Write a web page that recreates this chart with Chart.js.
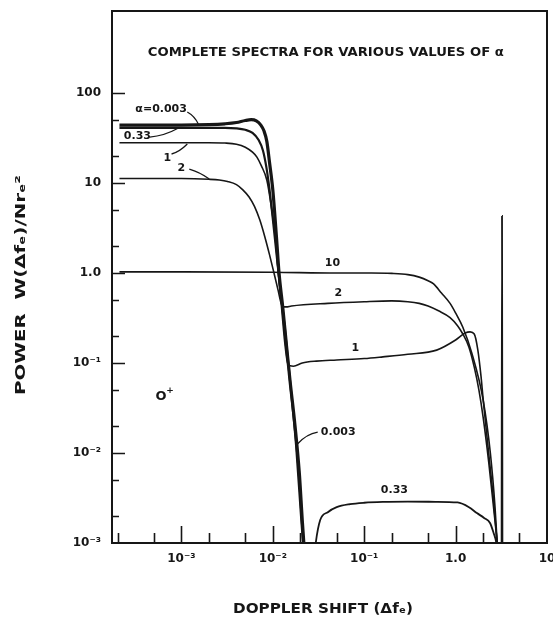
<!DOCTYPE html>
<html>
<head>
<meta charset="utf-8">
<title>Complete spectra</title>
<script src="https://cdn.jsdelivr.net/npm/chart.js@4.4.1/dist/chart.umd.min.js"></script>
<style>
  html, body { margin: 0; padding: 0; background: #fff; }
  #wrap { width: 553px; height: 623px; }
</style>
</head>
<body>
<div id="wrap"><canvas id="spectra" width="553" height="623"></canvas></div>
<script>
// curves (x = doppler shift, y = power)
const a0003X = [2.1e-4, 1e-3, 2e-3, 3e-3, 4e-3, 5e-3, 5.8e-3, 6.6e-3, 7.4e-3, 8e-3, 8.6e-3, 9.2e-3, 1e-2, 1.1e-2, 1.17e-2, 1.29e-2, 1.4e-2, 1.54e-2, 1.75e-2, 1.95e-2, 2.1e-2, 2.2e-2, 2.3e-2];
const a0003Y = [44, 44, 44.5, 45.5, 47, 49.5, 50.5, 49, 44, 38, 29, 17, 8.4, 2.4, 1.0, 0.4, 0.17, 0.065, 0.02, 0.006, 0.0018, 0.0009, 0.0004];

const a033X = [2.1e-4, 1e-3, 2e-3, 3e-3, 4e-3, 5e-3, 6e-3, 7e-3, 7.8e-3, 8.5e-3, 9.2e-3, 1e-2, 1.1e-2, 1.2e-2, 1.35e-2, 1.55e-2, 1.8e-2, 2.05e-2, 2.2e-2];
const a033Y = [41, 41, 41, 41, 40.5, 39, 36, 30, 23, 15, 8.5, 4, 1.6, 0.7, 0.25, 0.06, 0.012, 0.0018, 0.0007];
const a033HumpX = [2.85e-2, 2.95e-2, 3.3e-2, 4e-2, 5e-2, 7e-2, 0.1, 0.16, 0.3, 0.6, 1.05, 1.4, 1.71, 2.05, 2.38, 2.6, 2.79, 2.9];
const a033HumpY = [0.0007, 0.001, 0.0018, 0.0022, 0.0025, 0.0027, 0.0028, 0.00286, 0.00288, 0.00287, 0.00282, 0.0025, 0.00215, 0.0019, 0.00167, 0.0013, 0.001, 0.0007];

const a1X = [2.1e-4, 1e-3, 2e-3, 3e-3, 4e-3, 5e-3, 6e-3, 6.7e-3, 7.5e-3, 8.6e-3, 9.5e-3, 1.05e-2, 1.15e-2, 1.25e-2, 1.35e-2, 1.45e-2, 1.55e-2, 1.68e-2, 2.1e-2, 3e-2, 5e-2, 0.1, 0.16, 0.3, 0.62, 1.0, 1.27, 1.44, 1.6, 1.75, 1.9, 2.0, 2.3, 2.6, 2.85, 3.0];
const a1Y = [28, 28, 28, 27.8, 27, 25, 22, 19.4, 15.5, 10.8, 6, 2.8, 1.0, 0.4, 0.17, 0.1, 0.093, 0.092, 0.1, 0.105, 0.108, 0.112, 0.117, 0.125, 0.139, 0.18, 0.215, 0.222, 0.21, 0.14, 0.07, 0.04, 0.01, 0.003, 0.001, 0.0005];

const a2X = [2.1e-4, 1e-3, 2e-3, 2.6e-3, 3.2e-3, 4e-3, 4.7e-3, 5.5e-3, 6.3e-3, 7.2e-3, 8.2e-3, 9.2e-3, 1.03e-2, 1.14e-2, 1.22e-2, 1.29e-2, 1.4e-2, 1.6e-2, 4e-2, 0.1, 0.2, 0.3, 0.4, 0.5, 0.65, 0.87, 1.05, 1.2, 1.4, 1.6, 1.8, 2.0, 2.3, 2.6, 2.85, 3.0];
const a2Y = [11.2, 11.2, 11, 10.8, 10.4, 9.6, 8.4, 7, 5.5, 3.9, 2.5, 1.6, 1.0, 0.65, 0.48, 0.42, 0.42, 0.43, 0.46, 0.48, 0.49, 0.48, 0.46, 0.43, 0.38, 0.32, 0.26, 0.21, 0.15, 0.09, 0.05, 0.025, 0.008, 0.0025, 0.001, 0.0005];

const a10X = [2.1e-4, 1e-3, 1e-2, 0.05, 0.12, 0.2, 0.3, 0.4, 0.5, 0.57, 0.7, 0.87, 1.0, 1.2, 1.5, 2.0, 2.4, 2.7, 2.85, 3.0];
const a10Y = [1.03, 1.03, 1.02, 1.0, 1.0, 0.99, 0.96, 0.9, 0.82, 0.76, 0.6, 0.46, 0.36, 0.25, 0.13, 0.039, 0.01, 0.0025, 0.001, 0.0005];

// narrow ion line near the right edge
const spikeX = [3.18, 3.22, 3.26];
const spikeY = [1e-4, 4.3, 1e-4];

// tick values and their labels
const xMajor = [1e-3, 1e-2, 1e-1, 1, 10];
const xMajorLabels = ['10\u207B\u00B3', '10\u207B\u00B2', '10\u207B\u00B9', '1.0', '10'];
const xMinor = [2e-4, 5e-4, 2e-3, 5e-3, 2e-2, 5e-2, 0.2, 0.5, 2, 5];
const yMajor = [1e-3, 1e-2, 1e-1, 1, 10, 100];
const yMajorLabels = ['10\u207B\u00B3', '10\u207B\u00B2', '10\u207B\u00B9', '1.0', '10', '100'];
const yMinor = [2e-3, 5e-3, 2e-2, 5e-2, 0.2, 0.5, 2, 5, 20, 50];

// curve labels, in data units
const curveLabels = [
  { text: '\u03B1=0.003', x: 6.0e-4, y: 66 },
  { text: '0.33', x: 3.3e-4, y: 33 },
  { text: '1', x: 7.0e-4, y: 19 },
  { text: '2', x: 1e-3, y: 14.7 },
  { text: '10', x: 0.045, y: 1.3 },
  { text: '2', x: 0.052, y: 0.6 },
  { text: '1', x: 0.08, y: 0.147 },
  { text: '0.003', x: 0.052, y: 0.0171 },
  { text: '0.33', x: 0.214, y: 0.00388 }
];
const leaderLines = [
  [[1.16e-3, 61.5], [1.39e-3, 55.5], [1.53e-3, 45.3]],
  [[4.5e-4, 32.4], [6.5e-4, 33.3], [9.3e-4, 40.8]],
  [[7.8e-4, 21], [9.5e-4, 22.1], [1.16e-3, 27.1]],
  [[1.22e-3, 14.3], [1.57e-3, 13.3], [2.02e-3, 11.1]],
  [[0.031, 0.0171], [0.0233, 0.0163], [0.0186, 0.0126]]
];

const ink = '#161616';
const fontFamily = '"DejaVu Sans", "Liberation Sans", sans-serif';

function pts(xs, ys) {
  return xs.map((x, i) => ({ x: x, y: ys[i] }));
}

function curve(label, xs, ys, width) {
  return {
    label: label,
    data: pts(xs, ys),
    borderColor: ink,
    borderWidth: width,
    pointRadius: 0,
    fill: false,
    cubicInterpolationMode: 'monotone'
  };
}

// draws text squeezed/stretched to a given width
function fittedText(ctx, text, cx, cy, font, targetW, angle) {
  ctx.save();
  ctx.font = font;
  const w = ctx.measureText(text).width;
  ctx.translate(cx, cy);
  if (angle) ctx.rotate(angle);
  ctx.scale(targetW / w, 1);
  ctx.textAlign = 'center';
  ctx.textBaseline = 'middle';
  ctx.fillStyle = ink;
  ctx.fillText(text, 0, 0);
  ctx.restore();
}

const framePlugin = {
  id: 'frame',
  afterDatasetsDraw(chart) {
    const ctx = chart.ctx;
    const a = chart.chartArea;
    const xs = chart.scales.x, ys = chart.scales.y;
    ctx.save();
    ctx.strokeStyle = ink;
    ctx.lineWidth = 2;
    ctx.strokeRect(a.left, a.top, a.right - a.left, a.bottom - a.top);

    ctx.lineWidth = 1.6;
    ctx.beginPath();
    xMajor.concat(xMinor).forEach(v => {
      const len = xMajor.includes(v) ? 17 : 10;
      const px = Math.round(xs.getPixelForValue(v)) + 0.5;
      if (px > a.right - 1) return;
      ctx.moveTo(px, a.bottom);
      ctx.lineTo(px, a.bottom - len);
    });
    yMajor.concat(yMinor).forEach(v => {
      const len = yMajor.includes(v) ? 13 : 7;
      const py = Math.round(ys.getPixelForValue(v)) + 0.5;
      if (py < a.top + 1 || py > a.bottom - 1) return;
      ctx.moveTo(a.left, py);
      ctx.lineTo(a.left + len, py);
    });
    ctx.stroke();

    // leader lines from labels to curves
    ctx.lineWidth = 1.3;
    leaderLines.forEach(line => {
      const p = line.map(q => [xs.getPixelForValue(q[0]), ys.getPixelForValue(q[1])]);
      ctx.beginPath();
      ctx.moveTo(p[0][0], p[0][1]);
      ctx.quadraticCurveTo(p[1][0], p[1][1], p[2][0], p[2][1]);
      ctx.stroke();
    });

    ctx.fillStyle = ink;
    ctx.font = 'bold 11px ' + fontFamily;
    ctx.textAlign = 'center';
    ctx.textBaseline = 'middle';
    curveLabels.forEach(l => {
      ctx.fillText(l.text, xs.getPixelForValue(l.x), ys.getPixelForValue(l.y));
    });

    // species marker
    const ox = xs.getPixelForValue(6e-4), oy = ys.getPixelForValue(0.042);
    ctx.font = 'bold 13px ' + fontFamily;
    ctx.fillText('O', ox, oy);
    ctx.font = 'bold 9px ' + fontFamily;
    ctx.fillText('+', ox + 9, oy - 6);

    // plot title inside the frame
    fittedText(ctx, 'COMPLETE SPECTRA FOR VARIOUS VALUES OF \u03B1',
      xs.getPixelForValue(0.038), ys.getPixelForValue(278),
      'bold 12px ' + fontFamily, 356, 0);

    // axis titles
    fittedText(ctx, 'DOPPLER SHIFT (\u0394f\u2091)', 323, 609,
      'bold 14px ' + fontFamily, 180, 0);
    fittedText(ctx, 'POWER  W(\u0394f\u2091)/Nr\u2091\u00B2', 21, 285,
      'bold 14px ' + fontFamily, 220, -Math.PI / 2);
    ctx.restore();
  }
};

const chart = new Chart(document.getElementById('spectra'), {
  type: 'line',
  data: {
    datasets: [
      curve('\u03B1=0.003', a0003X, a0003Y, 3.2),
      curve('0.33', a033X, a033Y, 2.2),
      curve('0.33 (ion)', a033HumpX, a033HumpY, 1.8),
      curve('1', a1X, a1Y, 1.6),
      curve('2', a2X, a2Y, 1.6),
      curve('10', a10X, a10Y, 1.6),
      curve('ion line', spikeX, spikeY, 1.8)
    ]
  },
  options: {
    responsive: false,
    animation: false,
    devicePixelRatio: 1,
    layout: { padding: { top: 11, right: 6, left: 0, bottom: 0 } },
    plugins: {
      legend: { display: false },
      tooltip: { enabled: false },
      title: { display: false }
    },
    scales: {
      x: {
        type: 'logarithmic',
        min: 1.74e-4,
        max: 10,
        grid: { display: false },
        border: { display: false },
        afterBuildTicks: s => { s.ticks = xMajor.map(v => ({ value: v })); },
        afterFit: s => { s.height = 80; s.paddingLeft = 0; s.paddingRight = 0; },
        ticks: {
          autoSkip: false,
          maxRotation: 0,
          padding: 1,
          color: ink,
          font: { family: fontFamily, size: 12, weight: 'bold' },
          callback: v => {
            const i = xMajor.indexOf(v);
            return i >= 0 ? xMajorLabels[i] : '';
          }
        }
      },
      y: {
        type: 'logarithmic',
        min: 1e-3,
        max: 815,
        grid: { display: false },
        border: { display: false },
        afterBuildTicks: s => { s.ticks = yMajor.map(v => ({ value: v })); },
        afterFit: s => { s.width = 112; s.paddingTop = 0; s.paddingBottom = 0; },
        ticks: {
          autoSkip: false,
          padding: 3,
          color: ink,
          font: { family: fontFamily, size: 12, weight: 'bold' },
          callback: v => {
            const i = yMajor.indexOf(v);
            return i >= 0 ? yMajorLabels[i] : '';
          }
        }
      }
    }
  },
  plugins: [framePlugin]
});
</script>
</body>
</html>
